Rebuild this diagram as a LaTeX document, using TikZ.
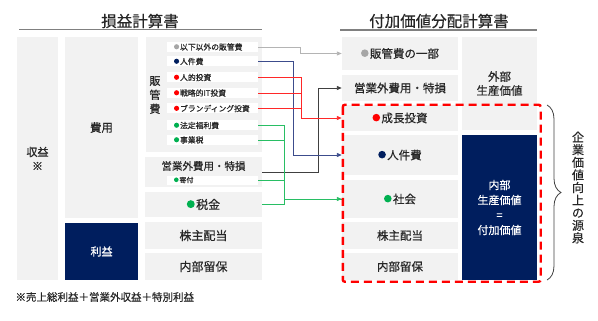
\documentclass[tikz,border=0pt]{standalone}
\usepackage{fontspec}
\setmainfont{Noto Sans CJK JP}[UprightFeatures={FakeBold=0.5}]
\usetikzlibrary{arrows.meta,positioning,calc,decorations.pathreplacing}
\definecolor{boxgray}{RGB}{242,242,242}
\definecolor{navy}{RGB}{0,30,94}
\definecolor{txt}{RGB}{38,38,38}
\definecolor{dotgray}{RGB}{166,166,166}
\definecolor{dotred}{RGB}{255,0,0}
\definecolor{dotgreen}{RGB}{0,176,80}
\definecolor{lnnavy}{RGB}{60,76,140}
\definecolor{lngray}{RGB}{180,180,180}
\definecolor{lnred}{RGB}{255,40,40}
\definecolor{lngreen}{RGB}{40,190,100}
\definecolor{lnblack}{RGB}{64,64,64}
\newcommand{\fsz}[2]{\fontsize{#1}{#2}\selectfont}
\newcommand{\mk}[1]{\raisebox{0.08em}{\tikz\fill[#1] (0,0) circle (0.33em);}\kern0.12em}

\tikzset{
  box/.style={fill=boxgray, inner sep=0pt, text=txt, align=center},
  navybox/.style={fill=navy, inner sep=0pt, text=white, align=center},
  item/.style={fill=white, inner xsep=7pt, inner ysep=0pt, text width=77pt,
    minimum height=10pt, text=txt, font=\fsz{7.8}{8}, align=left},
  link/.style={line width=0.9pt, -{Triangle[length=5pt,width=4pt]}},
  plain/.style={line width=0.9pt},
}

\begin{document}
\begin{tikzpicture}[x=1pt, y=-1pt]
  \useasboundingbox (0,0) rectangle (598,321);

  % Titles
  \node[font=\fsz{15.5}{16}, text=txt] (pltitle) at (140,21) {損益計算書};
  \draw[gray, line width=1.2pt] (19,29.5) -- (262,29.5);
  \node[font=\fsz{15.5}{16}, text=txt] (vatitle) at (439,21) {付加価値分配計算書};
  \draw[gray, line width=1.2pt] (340,30) -- (537,30);

  % Profit and loss statement
  \node[box, minimum width=41pt, minimum height=243pt, font=\fsz{11}{14}] (shueki) at (37.5,158.5) {収益\\※};
  \node[box, minimum width=73pt, minimum height=181pt, font=\fsz{11.5}{14}] (hiyou) at (101.5,127.5) {費用};
  \node[navybox, minimum width=73pt, minimum height=57pt, font=\fsz{11}{14}] (rieki) at (101.5,251.5) {利益};
  \node[box, minimum width=116pt, minimum height=115pt] (hankan) at (204,94.5) {};
  \node[text=txt, align=center, font=\fsz{11}{14}] (hankanlab) at (155,95) {販\\管\\費};

  \foreach \nm/\y/\c/\t in {hkother/47/dotgray/以下以外の販管費,
      hkjinken/61.5/navy/人件費, hkjinteki/77.5/dotred/人的投資,
      hkit/93/dotred/戦略的IT投資, hkbrand/108.5/dotred/ブランディング投資,
      hkfukuri/125.5/dotgreen/法定福利費, hkjigyo/140/dotgreen/事業税}
    \node[item] (\nm) at (212.5,\y) {\mk{\c}\t};

  \node[box, minimum width=117pt, minimum height=30pt] (leigyo) at (203.5,172) {};
  \node[text=txt, font=\fsz{10.5}{12}] (leigyolab) at (203.5,166) {営業外費用・特損};
  \node[item, minimum height=9pt, font=\fsz{7}{7}] (kifu) at (212.5,180) {\mk{dotgreen}寄付};
  \node[box, minimum width=117pt, minimum height=25pt, font=\fsz{12}{14}] (zeikin) at (203.5,204.5) {\mk{dotgreen}税金};
  \node[box, minimum width=117pt, minimum height=27pt, font=\fsz{12}{14}] (lkabu) at (203.5,235.5) {株主配当};
  \node[box, minimum width=117pt, minimum height=27pt, font=\fsz{12}{14}] (lnaibu) at (203.5,266.5) {内部留保};

  \node[anchor=west, text=txt, font=\fsz{10.5}{12}] (note) at (12,297) {※売上総利益＋営業外収益＋特別利益};

  % Value added distribution statement
  \node[box, minimum width=116pt, minimum height=33pt, font=\fsz{11.5}{14}] (rhankan) at (400,53.5) {\mk{dotgray}販管費の一部};
  \node[box, minimum width=116pt, minimum height=26pt, font=\fsz{11.5}{14}] (reigyo) at (400,88) {営業外費用・特損};
  \node[box, minimum width=116pt, minimum height=26pt, font=\fsz{11.5}{14}] (rseicho) at (400,118) {\mk{dotred}成長投資};
  \node[box, minimum width=116pt, minimum height=40pt, font=\fsz{11.5}{14}] (rjinken) at (400,155) {\mk{navy}人件費};
  \node[box, minimum width=116pt, minimum height=38pt, font=\fsz{11.5}{14}] (rshakai) at (400,199) {\mk{dotgreen}社会};
  \node[box, minimum width=116pt, minimum height=27pt, font=\fsz{11.5}{14}] (rkabu) at (400,235.5) {株主配当};
  \node[box, minimum width=116pt, minimum height=27pt, font=\fsz{11.5}{14}] (rnaibu) at (400,266.5) {内部留保};
  \node[box, minimum width=75pt, minimum height=93pt, font=\fsz{11.5}{14}] (gaibu) at (499.5,83.5) {外部\\生産価値};
  \node[navybox, minimum width=75pt, minimum height=145pt, font=\fsz{11}{15}] (naibuva) at (499.5,207.5) {内部\\生産価値\\=\\付加価値};

  % Connectors
  \draw[link, lnblack] (leigyo.east) -- ++(56,0) |- (reigyo.west);
  \draw[link, lngray] (hkother.east) -- ++(42,0) |- (rhankan.west);
  \draw[link, lnnavy] (hkjinken.east) -- ++(35,0) |- (rjinken.west);
  \draw[link, lnred] (hkjinteki.east) -- ++(43,0) |- (rseicho.west);
  \draw[plain, lnred] (hkit.east) -- ++(43,0);
  \draw[plain, lnred] (hkbrand.east) -- ++(43,0);
  \draw[link, lngreen] (hkfukuri.east) -- ++(26,0) |- (rshakai.west);
  \draw[plain, lngreen] (hkjigyo.east) -- ++(26,0);
  \draw[plain, lngreen] (kifu.east) -- ++(26,0);
  \draw[plain, lngreen] (zeikin.east) -- ++(22.5,0) |- (rshakai.west);

  % Value improvement area
  \draw[red, line width=2.4pt, dash pattern=on 8pt off 5pt, rounded corners=2pt]
    ($(rseicho.north west)+(1,0)$) rectangle ($(naibuva.east |- rnaibu.south)+(3.5,1.5)$);
  \draw[decorate, decoration={brace, amplitude=14pt}, lnblack, line width=0.8pt]
    (547,105) -- (547,280);
  \node[text=txt, align=center, font=\fsz{12}{12.6}] (gensen) at (578,187.5)
    {企\\業\\価\\値\\向\\上\\の\\源\\泉};
\end{tikzpicture}
\end{document}
